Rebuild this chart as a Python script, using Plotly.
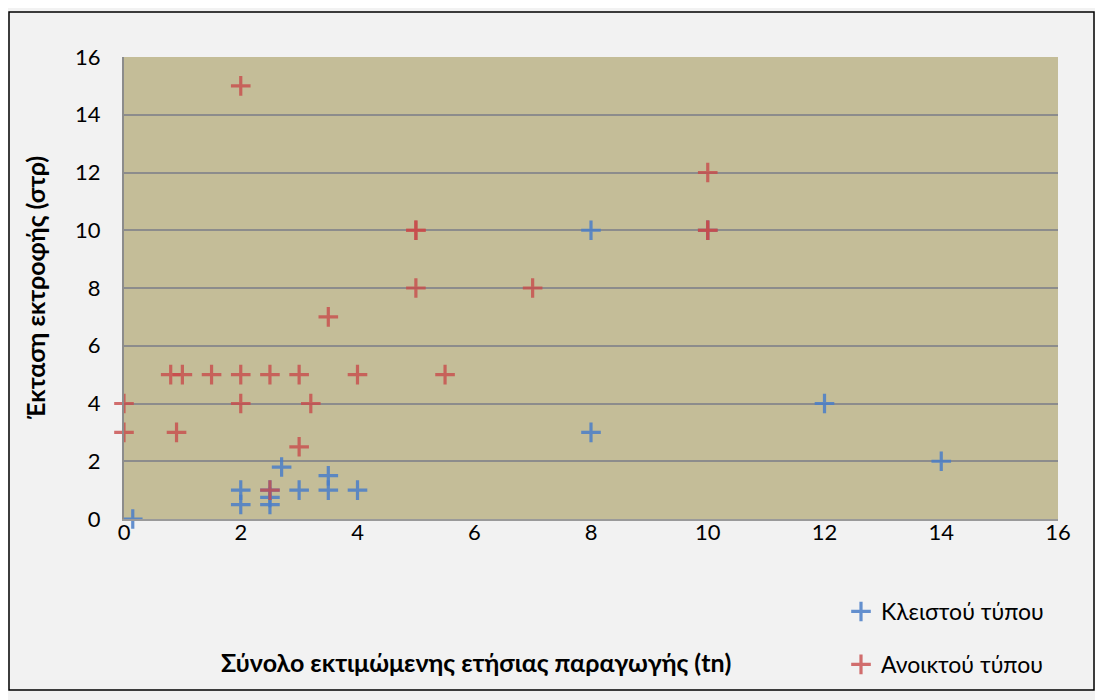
import plotly.graph_objects as go

# Κλειστού τύπου (closed type)
closed_x = [0.15, 2, 2, 2.5, 2.5, 2.5, 2.7, 3, 3.5, 3.5, 4, 8, 8, 10, 12, 14]
closed_y = [0, 1, 0.5, 1, 0.75, 0.5, 1.8, 1, 1, 1.5, 1, 10, 3, 10, 4, 2]

# Ανοικτού τύπου (open type)
open_x = [0, 0, 0.9, 2, 3.2, 3, 2.5, 0.8, 1.0, 1.5, 2, 2.5, 3, 4, 5.5, 3.5, 5, 7, 5, 5, 10, 10, 10, 2]
open_y = [4, 3, 3, 4, 4, 2.5, 1, 5, 5, 5, 5, 5, 5, 5, 5, 7, 8, 8, 10, 10, 10, 10, 12, 15]

x_ticks = [0, 2, 4, 6, 8, 10, 12, 14, 16]
y_ticks = [0, 2, 4, 6, 8, 10, 12, 14, 16]

x_title = "Σύνολο εκτιμώμενης ετήσιας παραγωγής (tn)"
y_title = "Έκταση εκτροφής (στρ)"

FONT = "Lato, Carlito, Calibri, sans-serif"

fig = go.Figure()
fig.add_trace(go.Scatter(
    x=closed_x, y=closed_y, mode="markers", name="Κλειστού τύπου",
    legendgroup="a", cliponaxis=False,
    marker=dict(symbol="cross-thin", size=14,
                line=dict(color="rgba(74,126,200,0.85)", width=3.2)),
))
fig.add_trace(go.Scatter(
    x=open_x, y=open_y, mode="markers", name="Ανοικτού τύπου",
    legendgroup="b", cliponaxis=False,
    marker=dict(symbol="cross-thin", size=14,
                line=dict(color="rgba(200,75,75,0.8)", width=3.2)),
))

OFF = 8  # page body offset
W, H = 1103 - OFF, 700 - OFF
PL, PR, PT, PB = 124, 1058, 57, 519  # plot area in page pixels
L = PL - OFF
R = (OFF + W) - PR
T = PT - OFF
B = (OFF + H) - PB
pw = PR - PL
ph = PB - PT


def px(x):
    return (x - PL) / pw


def py(y):
    return (PB - y) / ph


fig.update_layout(
    width=W, height=H,
    margin=dict(l=L, r=R, t=T, b=B),
    paper_bgcolor="#f2f2f2",
    plot_bgcolor="#c4bd98",
    font=dict(family=FONT, size=22, color="#000000"),
    showlegend=True,
    legend=dict(
        x=px(841), y=py(590),
        xanchor="left", yanchor="top",
        bgcolor="rgba(0,0,0,0)",
        font=dict(family=FONT, size=23, color="#000000"),
        tracegroupgap=20,
        itemwidth=30,
    ),
    xaxis=dict(
        range=[0, 16], tickvals=x_ticks, ticktext=[str(v) for v in x_ticks],
        showgrid=False, zeroline=False,
        showline=True, linecolor="#9a9a9a", linewidth=2,
        ticks="", ticklen=0, ticklabelstandoff=-7,
        tickfont=dict(family=FONT, size=22),
        automargin=False,
    ),
    yaxis=dict(
        range=[0, 16], tickvals=y_ticks, ticktext=[str(v) for v in y_ticks],
        showgrid=True, gridcolor="#8c8c8c", gridwidth=2,
        zeroline=False,
        showline=True, linecolor="#8c8c8c", linewidth=2,
        ticks="outside", ticklen=17, tickcolor="rgba(0,0,0,0)",
        tickfont=dict(family=FONT, size=22),
        automargin=False,
    ),
    annotations=[
        dict(text="<b>" + x_title + "</b>", xref="paper", yref="paper",
             x=px(476), y=py(662), xanchor="center", yanchor="middle",
             showarrow=False, font=dict(family=FONT, size=25)),
        dict(text="<b>" + y_title + "</b>", xref="paper", yref="paper",
             x=px(35), y=py(288), xanchor="center", yanchor="middle",
             textangle=-90, showarrow=False, font=dict(family=FONT, size=25)),
    ],
)

# outer chart border
fig.add_shape(type="rect", xref="paper", yref="paper",
              x0=px(9), x1=px(1094),
              y0=py(690), y1=py(12),
              line=dict(color="#000000", width=1.5), fillcolor="rgba(0,0,0,0)",
              layer="below")

fig.write_html("out.html")
